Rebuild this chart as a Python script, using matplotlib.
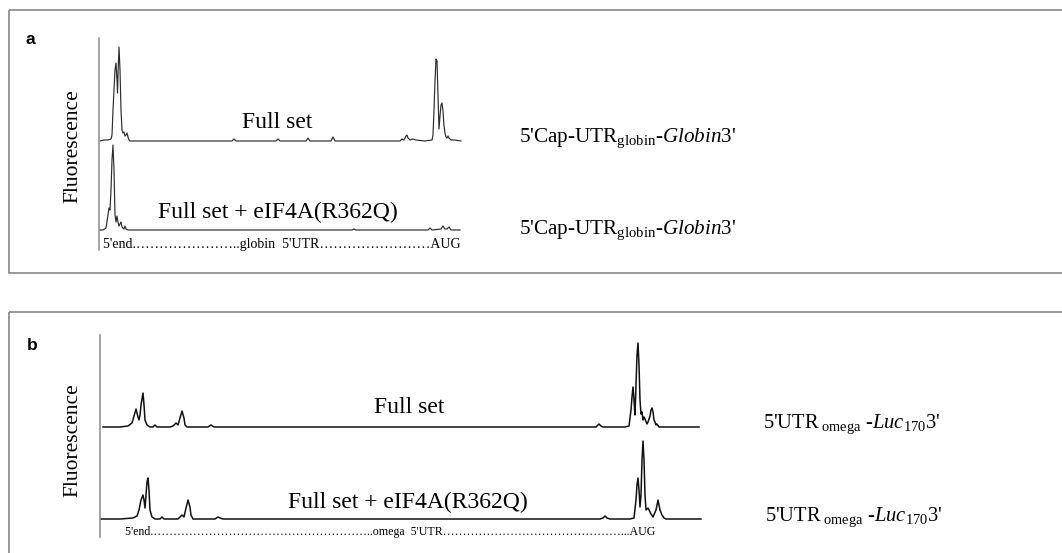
import matplotlib
matplotlib.use("Agg")
import matplotlib.pyplot as plt
from matplotlib.patches import Rectangle

plt.rcParams["font.family"] = ["Liberation Serif", "DejaVu Serif"]
plt.rcParams["mathtext.fontset"] = "custom"
plt.rcParams["mathtext.rm"] = "Liberation Serif"
plt.rcParams["mathtext.it"] = "Liberation Serif:italic"

# --- traces: position along the RNA (a.u.) and fluorescence (a.u.) ---
a_top_pos = [1, 5, 9, 12, 13, 14, 16, 17, 18, 18.5, 19, 20, 21, 22, 23, 24, 25, 26, 27, 28, 29, 30, 31,
             133, 135, 137, 177, 179, 181, 207, 209, 211, 232, 234, 236, 301, 303, 305, 307, 308, 309, 311,
             314, 317, 326, 333, 334, 335, 336, 337, 338, 339, 340, 341, 342, 343, 344, 345, 346, 347, 348,
             349, 350, 352, 356, 362]
a_top_fl = [0, 1, 1, 2, 6, 31, 71, 78, 61, 48, 66, 94, 71, 31, 11, 8, 9, 5, 6, 8, 4, 1, 0,
            0, 2, 0, 0, 2, 0, 0, 3, 0, 0, 4, 0, 0, 2, 1, 5, 6, 3, 1,
            2, 1, 0, 1, 6, 31, 60, 82, 80, 45, 12, 25, 36, 38, 30, 15, 8, 4, 3,
            5, 3, 1, 1, 0]

a_bot_pos = [0, 4, 7, 9, 10, 11, 12, 13, 14, 15, 16, 17, 18, 19, 20, 21, 22, 23, 25, 26, 27, 29,
             253, 255, 257, 329, 331, 333, 342, 344, 346, 348, 350, 352, 356, 361]
a_bot_fl = [0, 0, 2, 15, 22, 20, 40, 70, 85, 60, 15, 8, 14, 8, 4, 6, 8, 3, 1, 4, 1, 0,
            0, 1, 0, 0, 2, 0, 1, 4, 1, 1, 3, 0, 0, 0]

b_top_pos = [3, 20, 28, 32, 34, 36, 37, 38, 39, 40, 41, 43, 44, 45, 47, 50, 53, 55, 57, 70, 73, 75, 76,
             78, 80, 82, 84, 85, 87, 108, 111, 114, 496, 499, 501, 503, 525, 529, 531, 532, 533, 534,
             535, 536, 537, 538, 539, 540, 541, 542, 543, 544, 545, 547, 548, 550, 551, 552, 553, 554,
             555, 556, 557, 559, 565, 599]
b_top_fl = [0, 0, 1, 4, 11, 18, 14, 10, 7, 12, 22, 34, 22, 7, 2, 0, 0, 2, 0, 0, 1, 3, 4,
            2, 9, 16, 9, 2, 0, 0, 2, 0, 0, 3, 1, 0, 0, 1, 17, 30, 40, 27,
            12, 42, 72, 84, 62, 27, 13, 15, 7, 10, 8, 3, 5, 11, 17, 19, 15, 7,
            5, 2, 3, 0, 0, 0]

b_bot_pos = [0, 20, 33, 37, 39, 41, 43, 44, 45, 46, 47, 48, 49, 50, 52, 55, 60, 62, 64, 78, 80, 82, 84,
             86, 88, 90, 91, 93, 115, 118, 120, 123, 500, 503, 505, 507, 510, 530, 534, 536, 537, 538,
             539, 540, 541, 542, 543, 544, 545, 546, 548, 550, 551, 553, 556, 558, 560, 562, 564, 566,
             580, 601]
b_bot_fl = [0, 0, 1, 3, 9, 19, 24, 19, 11, 24, 37, 41, 29, 9, 2, 0, 0, 2, 0, 0, 2, 4, 2,
            11, 19, 12, 4, 0, 0, 2, 1, 0, 0, 1, 3, 1, 0, 0, 1, 19, 34, 41,
            29, 12, 24, 59, 78, 59, 24, 9, 11, 7, 5, 2, 9, 19, 9, 4, 1, 0,
            0, 0]

conditions = ["Full set", "Full set + eIF4A(R362Q)"]
construct_a = r"5'Cap-UTR$_{\mathrm{globin}}$-$\mathit{Globin}$3'"
construct_b = r"5'UTR$_{\ \mathrm{omega}}$ -$\mathit{Luc}_{170}$3'"
axis_a = "5'end." + "\u2026" * 7 + ".." + "globin  5'UTR" + "\u2026" * 8 + "AUG"
axis_b = "5'end." + "\u2026" * 18 + ".." + "omega  5'UTR" + "\u2026" * 15 + "...AUG"

W, H = 1062, 553
fig = plt.figure(figsize=(W / 100, H / 100), dpi=100)

# background layer in pixel coordinates for frames and labels
bg = fig.add_axes([0, 0, 1, 1])
bg.set_xlim(0, W)
bg.set_ylim(H, 0)
bg.axis("off")

frame = dict(fill=False, edgecolor="#7a7a7a", linewidth=1.1)
bg.add_patch(Rectangle((9, 10), 1070, 263, **frame))
bg.add_patch(Rectangle((9, 312), 1070, 300, **frame))


def trace_axes(left, right, top, bottom):
    ax = fig.add_axes([left / W, 1 - bottom / H, (right - left) / W, (bottom - top) / H])
    ax.patch.set_alpha(0)
    for s in ["top", "right", "bottom"]:
        ax.spines[s].set_visible(False)
    ax.spines["left"].set_color("#8c8c8c")
    ax.spines["left"].set_linewidth(1.1)
    ax.set_xticks([])
    ax.set_yticks([])
    ax.set_xlim(0, right - left)
    ax.set_ylim(0, bottom - top)
    return ax


# --- panel a ---
ax_a = trace_axes(99, 470, 38, 250)
ax_a.plot(a_top_pos, [109 + v for v in a_top_fl], color="#2b2b2b", lw=0.85)
ax_a.plot(a_bot_pos, [20 + v for v in a_bot_fl], color="#2b2b2b", lw=0.85)

# --- panel b ---
ax_b = trace_axes(100, 705, 335, 537)
ax_b.plot(b_top_pos, [110 + v for v in b_top_fl], color="#111111", lw=1.1)
ax_b.plot(b_bot_pos, [18 + v for v in b_bot_fl], color="#111111", lw=1.1)

# panel letters
bg.text(30, 40, "a", fontfamily="Liberation Sans", fontweight="bold", fontsize=12.5,
        ha="center", va="center")
bg.text(32, 345, "b", fontfamily="Liberation Sans", fontweight="bold", fontsize=12.5,
        ha="center", va="center")

# y labels
for yc in (146, 440):
    bg.text(73, yc, "Fluorescence", fontsize=15.5, rotation=90, ha="center", va="center")

# condition labels
bg.text(277, 128, conditions[0], fontsize=17, ha="center", va="baseline")
bg.text(278, 218, conditions[1], fontsize=17, ha="center", va="baseline")
bg.text(409, 413, conditions[0], fontsize=17, ha="center", va="baseline")
bg.text(408, 508, conditions[1], fontsize=17, ha="center", va="baseline")

# construct labels
bg.text(519, 142, construct_a, fontsize=15.2, ha="left", va="baseline")
bg.text(519, 234, construct_a, fontsize=15.2, ha="left", va="baseline")
bg.text(763, 428, construct_b, fontsize=14.8, ha="left", va="baseline")
bg.text(765, 521, construct_b, fontsize=14.8, ha="left", va="baseline")

# position labels along the RNA
bg.text(103, 248, axis_a, fontsize=10, ha="left", va="baseline")
bg.text(125, 535, axis_b, fontsize=8.6, ha="left", va="baseline")

fig.savefig("out.png", dpi=100)
